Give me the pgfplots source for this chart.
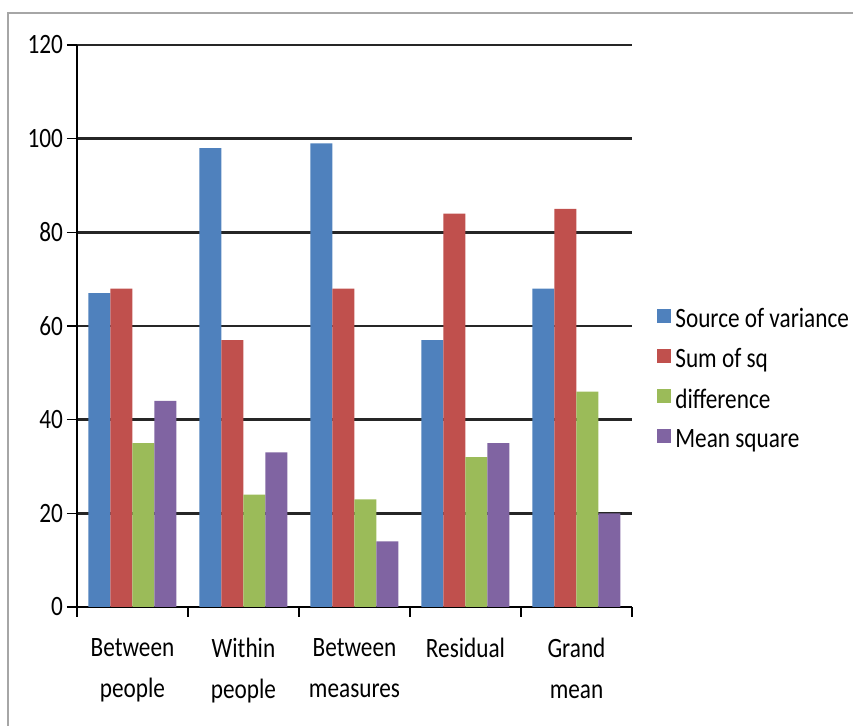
\documentclass[border=0pt]{standalone}
\usepackage{fontspec}
\setmainfont{Carlito}[FakeStretch=0.83]
\usepackage{pgfplots}
\pgfplotsset{compat=1.18}

\definecolor{sblue}{HTML}{4F81BD}
\definecolor{sred}{HTML}{C0504D}
\definecolor{sgreen}{HTML}{9BBB59}
\definecolor{spurple}{HTML}{8064A2}

\begin{document}
\begin{tikzpicture}
\useasboundingbox (-38.5pt,-59.5pt) rectangle (388pt,303.5pt);
\draw[gray!70, line width=0.8pt] (-34.5pt,-59.5pt) -- (-34.5pt,297pt) -- (388pt,297pt);
\begin{axis}[
    at={(0pt,0pt)}, anchor=south west,
    scale only axis,
    width=277.5pt, height=281pt,
    ybar=0pt, bar width=11pt,
    xmin=-0.5, xmax=4.5,
    ymin=0, ymax=120,
    ytick={0,20,...,120},
    xtick={-0.5,0.5,...,4.5},
    xticklabels={},
    extra x ticks={0,1,2,3,4},
    extra x tick labels={Between\\people, Within\\people, Between\\measures, Residual, Grand\\mean},
    extra x tick style={major tick length=0pt, xticklabel style={yshift=-12pt}},
    xticklabel style={align=center, font=\fontsize{14}{20.5}\selectfont, anchor=north},
    yticklabel style={font=\fontsize{14}{15}\selectfont, xshift=1.5pt},
    /pgf/number format/assume math mode=true,
    axis x line*=bottom, axis y line*=left,
    axis line style={black, line width=0.7pt, -},
    tick style={black, line width=0.7pt},
    tick align=outside,
    major tick length=5pt,
    ymajorgrids,
    major grid style={black!85, line width=1.2pt},
    legend style={at={(1.045,0.405)}, anchor=west, draw=none, fill=none,
        font=\fontsize{14}{15}\selectfont, row sep=5pt, inner sep=0pt},
    legend cell align=left,
    legend image code/.code={\fill[#1] (0pt,-1.5pt) rectangle (7pt,5.5pt);},
]
\addplot[fill=sblue, draw=none] coordinates {(0,67) (1,98) (2,99) (3,57) (4,68)};
\addplot[fill=sred, draw=none] coordinates {(0,68) (1,57) (2,68) (3,84) (4,85)};
\addplot[fill=sgreen, draw=none] coordinates {(0,35) (1,24) (2,23) (3,32) (4,46)};
\addplot[fill=spurple, draw=none] coordinates {(0,44) (1,33) (2,14) (3,35) (4,20)};
\legend{Source of variance, Sum of sq, difference, Mean square}
\end{axis}
\end{tikzpicture}
\end{document}
